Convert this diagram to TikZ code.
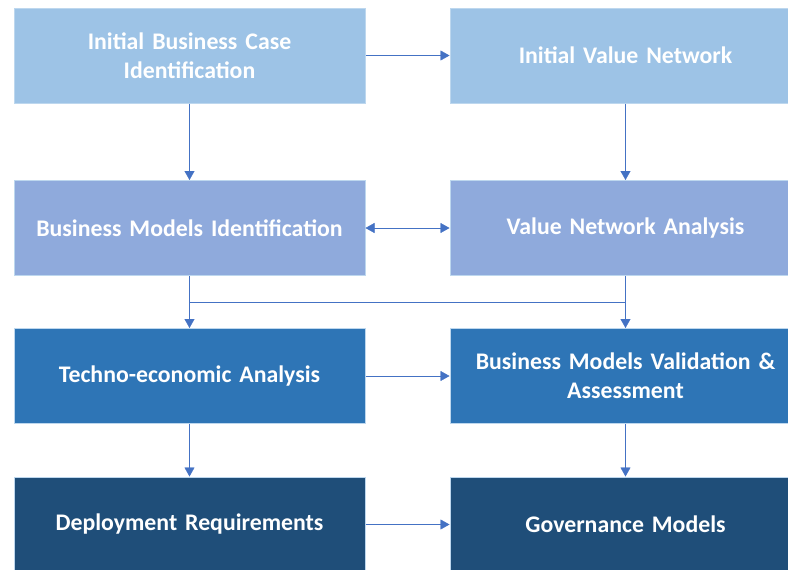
\documentclass[tikz,border=0pt]{standalone}
\usepackage{fontspec}
\setmainfont{Carlito}
\usepackage{tikz}
\usetikzlibrary{arrows.meta}

\definecolor{rowone}{HTML}{9DC3E6}
\definecolor{rowtwo}{HTML}{8FAADC}
\definecolor{rowthree}{HTML}{2E75B6}
\definecolor{rowfour}{HTML}{1F4E79}
\definecolor{edgeblue}{HTML}{BDD7EE}
\definecolor{arrowblue}{HTML}{4472C4}

\begin{document}
\begin{tikzpicture}[x=1pt, y=-1pt, >={Triangle[width=10pt,length=9pt]},
    every node/.style={rectangle, draw=edgeblue, line width=1pt, minimum width=351pt, minimum height=95pt,
      text width=335pt, align=center, text=white, font=\bfseries\fontsize{23.8}{29}\selectfont}]
    \useasboundingbox (0,0) rectangle (788,570);

    \node (ibc) at (189.5,55.5) [fill=rowone] {Initial Business Case\\Identification};
    \node (ivn) at (625.5,55.5) [fill=rowone] {Initial Value Network};
    \node (bmi) at (189.5,228) [fill=rowtwo] {Business Models Identification};
    \node (vna) at (625.5,228) [fill=rowtwo] {Value Network Analysis};
    \node (tea) at (189.5,376) [fill=rowthree] {Techno-economic Analysis};
    \node (bmv) at (625.5,376) [fill=rowthree] {Business Models Validation \&\\Assessment};
    \node (dre) at (189.5,524.5) [fill=rowfour] {Deployment Requirements};
    \node (gov) at (625.5,524.5) [fill=rowfour] {Governance Models};

    \draw[->, arrowblue] (ibc) -- (ivn);
    \draw[<->, arrowblue] (bmi) -- (vna);
    \draw[->, arrowblue] (tea) -- (bmv);
    \draw[->, arrowblue] (dre) -- (gov);

    \draw[->, arrowblue] (ibc) -- (bmi);
    \draw[->, arrowblue] (ivn) -- (vna);
    \draw[->, arrowblue] (bmi) -- (tea);
    \draw[->, arrowblue] (vna) -- (bmv);
    \draw[arrowblue] (bmi.south |- 0,302) -- (vna.south |- 0,302);
    \draw[->, arrowblue] (tea) -- (dre);
    \draw[->, arrowblue] (bmv) -- (gov);
\end{tikzpicture}
\end{document}
